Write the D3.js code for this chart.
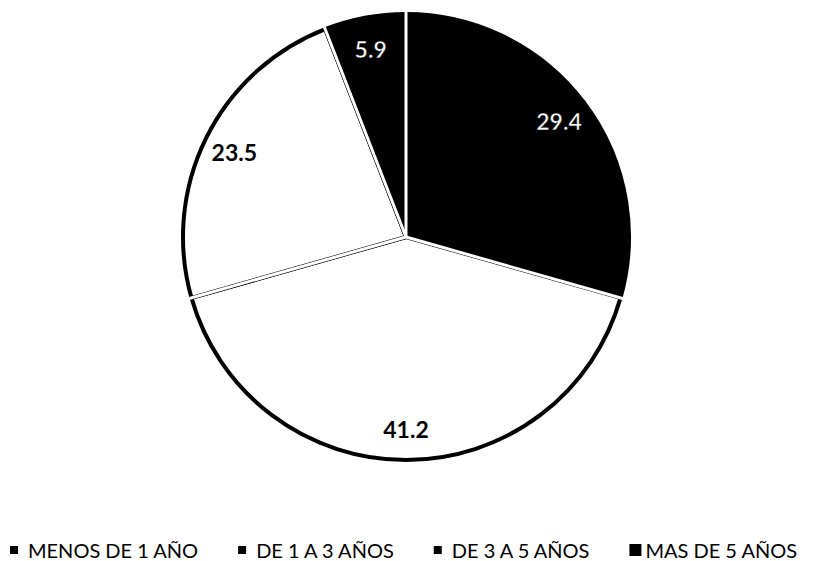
<!DOCTYPE html>
<html>
<head>
<meta charset="utf-8">
<script src="https://cdn.jsdelivr.net/npm/d3@7"></script>
<style>
  html, body { margin: 0; padding: 0; background: #fff; }
  svg { display: block; }
</style>
</head>
<body>
<svg id="chart" width="813" height="561"></svg>
<script>
// Antigüedad: categories and their percentages
const categories = ["MENOS DE 1 AÑO", "DE 1 A 3 AÑOS", "DE 3 A 5 AÑOS", "MAS DE 5 AÑOS"];
const values = [29.4, 41.2, 23.5, 5.9];
const valueLabels = ["29.4", "41.2", "23.5", "5.9"];
const sliceFills = ["#000000", "#ffffff", "#ffffff", "#000000"];
const labelFills = ["#ffffff", "#000000", "#000000", "#ffffff"];

const svg = d3.select("#chart");
const cx = 406, cy = 237, R = 223;

const data = categories.map((c, i) => ({ cat: c, value: values[i], label: valueLabels[i], fill: sliceFills[i], tfill: labelFills[i] }));

const pie = d3.pie().value(d => d.value).sort(null);
const arcs = pie(data);
const arc = d3.arc().innerRadius(0).outerRadius(R);

const g = svg.append("g").attr("transform", `translate(${cx},${cy})`);

g.selectAll("path.slice")
  .data(arcs)
  .join("path")
  .attr("class", "slice")
  .attr("d", arc)
  .attr("fill", d => d.data.fill)
  .attr("stroke", "#000")
  .attr("stroke-width", 4)
  .attr("stroke-linejoin", "round");

// white separators between slices
const bounds = arcs.map(a => a.startAngle);
g.selectAll("line.sep")
  .data(bounds)
  .join("line")
  .attr("class", "sep")
  .attr("x1", 0).attr("y1", 0)
  .attr("x2", a => (R + 4) * Math.sin(a))
  .attr("y2", a => -(R + 4) * Math.cos(a))
  .attr("stroke", "#fff")
  .attr("stroke-width", 3);

// value labels
const labelArc = d3.arc().innerRadius(R * 0.86).outerRadius(R * 0.86);
g.selectAll("text.val")
  .data(arcs)
  .join("text")
  .attr("class", "val")
  .attr("transform", d => `translate(${labelArc.centroid(d)})`)
  .attr("text-anchor", "middle")
  .attr("dominant-baseline", "central")
  .attr("font-family", "Lato, 'Open Sans', sans-serif")
  .attr("font-weight", "bold")
  .attr("font-size", 23)
  .attr("fill", d => d.data.tfill)
  .attr("stroke", d => d.data.tfill === "#ffffff" ? "#000" : "none")
  .attr("stroke-width", 0.5)
  .text(d => d.data.label);

// legend
const legend = svg.append("g").attr("class", "legend");
let x = 10;
const ly = 550;
data.forEach((d, i) => {
  const size = i === data.length - 1 ? 12 : 8;
  legend.append("rect")
    .attr("x", x).attr("y", ly - size / 2)
    .attr("width", size).attr("height", size)
    .attr("fill", "#000");
  x += size + (i === data.length - 1 ? 4 : 10);
  const t = legend.append("text")
    .attr("x", x).attr("y", ly)
    .attr("dominant-baseline", "central")
    .attr("font-family", "Lato, 'Open Sans', sans-serif")
    .attr("font-size", 20)
    .attr("fill", "#000")
    .text(d.cat);
  x += t.node().getComputedTextLength() + 40;
});
</script>
</body>
</html>
